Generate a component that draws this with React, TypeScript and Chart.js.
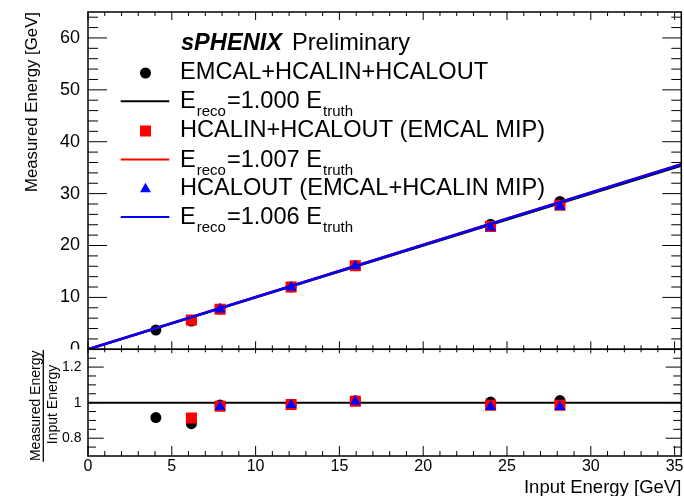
import React, { useEffect, useRef } from 'react';
import { Chart, registerables } from 'chart.js';

Chart.register(...registerables);

// ---------------- data ----------------
const inputAll = [4.05, 6.17, 7.88, 12.12, 15.95, 24.02, 28.16];
const measuredAll = [3.71, 5.44, 7.78, 12.0, 16.11, 24.09, 28.5];
const ratioAll = [0.916, 0.882, 0.987, 0.99, 1.01, 1.003, 1.012];

const inputHcal = [6.17, 7.88, 12.12, 15.95, 24.02, 28.16];
const measuredHcal = [5.64, 7.72, 11.99, 16.08, 23.66, 27.74];
const ratioHcal = [0.914, 0.98, 0.989, 1.008, 0.985, 0.985];

const inputOuter = [7.88, 12.12, 15.95, 24.02, 28.16];
const measuredOuter = [7.7, 11.96, 16.05, 23.47, 27.51];
const ratioOuter = [0.977, 0.987, 1.006, 0.977, 0.977];

const fitSlopes = [1.0, 1.007, 1.006];
const xRange = [0, 35.4];
const yRangeTop = [0, 65];
const yRangeRatio = [0.7, 1.3];

const xTickLabels = [0, 5, 10, 15, 20, 25, 30, 35];
const yTickLabelsTop = [0, 10, 20, 30, 40, 50, 60];
const yTickLabelsRatio = [0.8, 1, 1.2];
const xMinorStep = 1;
const yMinorStepTop = 2;
const yMinorStepRatio = 0.05;

const seriesLabels = [
  'EMCAL+HCALIN+HCALOUT',
  'HCALIN+HCALOUT (EMCAL MIP)',
  'HCALOUT (EMCAL+HCALIN MIP)',
];
const seriesColors = ['#000000', '#ff0000', '#0000ff'];
const seriesMarkers = ['circle', 'rect', 'triangle'];

const xTitle = 'Input Energy [GeV]';
const yTitleTop = 'Measured Energy [GeV]';
const ratioNum = 'Measured Energy';
const ratioDen = 'Input Energy';

// ---------------- helpers ----------------
const FONT = '"Liberation Sans", Arial, Helvetica, sans-serif';
const markerRadius: Record<string, number> = { circle: 5.5, rect: 7.8, triangle: 6.3 };

const pts = (xs: number[], ys: number[]) => xs.map((x, i) => ({ x, y: ys[i] }));

function minorValues(min: number, max: number, step: number, majors: number[]) {
  const out: number[] = [];
  const n = Math.round((max - min) / step);
  for (let i = 0; i <= n; i++) {
    const v = +(min + i * step).toFixed(6);
    if (v <= min || v >= max) continue;
    if (majors.some((m) => Math.abs(m - v) < 1e-6)) continue;
    out.push(v);
  }
  return out;
}

function drawTicks(ctx: CanvasRenderingContext2D, chart: any, cfg: any) {
  const a = chart.chartArea;
  const xs = chart.scales.x;
  const ys = chart.scales.y;
  ctx.save();
  ctx.strokeStyle = '#000';
  ctx.lineWidth = 1;
  ctx.beginPath();
  const xMin = minorValues(xs.min, xs.max, xMinorStep, cfg.xMajor);
  const line = (x1: number, y1: number, x2: number, y2: number) => {
    ctx.moveTo(x1, y1);
    ctx.lineTo(x2, y2);
  };
  cfg.xMajor.forEach((v: number) => {
    const p = xs.getPixelForValue(v);
    line(p, a.top, p, a.top + cfg.xTopMajor);
    line(p, a.bottom, p, a.bottom - cfg.xBotMajor);
  });
  xMin.forEach((v) => {
    const p = xs.getPixelForValue(v);
    line(p, a.top, p, a.top + cfg.xTopMinor);
    line(p, a.bottom, p, a.bottom - cfg.xBotMinor);
  });
  const yMin = minorValues(ys.min, ys.max, cfg.yMinorStep, cfg.yMajor);
  cfg.yMajor.forEach((v: number) => {
    const p = ys.getPixelForValue(v);
    line(a.left, p, a.left + cfg.yMajorLen, p);
    line(a.right, p, a.right - cfg.yMajorLen, p);
  });
  yMin.forEach((v) => {
    const p = ys.getPixelForValue(v);
    line(a.left, p, a.left + cfg.yMinorLen, p);
    line(a.right, p, a.right - cfg.yMinorLen, p);
  });
  ctx.stroke();
  ctx.lineWidth = 1.5;
  ctx.strokeRect(a.left, a.top, a.right - a.left, a.bottom - a.top);
  ctx.restore();
}

function drawMarker(ctx: CanvasRenderingContext2D, style: string, x: number, y: number, color: string) {
  const r = markerRadius[style];
  ctx.fillStyle = color;
  ctx.beginPath();
  if (style === 'circle') {
    ctx.arc(x, y, r, 0, Math.PI * 2);
  } else if (style === 'rect') {
    const s = r * Math.SQRT1_2;
    ctx.rect(x - s, y - s, 2 * s, 2 * s);
  } else {
    const w = r * Math.sin(Math.PI / 3);
    ctx.moveTo(x, y - r);
    ctx.lineTo(x + w, y + r / 2);
    ctx.lineTo(x - w, y + r / 2);
    ctx.closePath();
  }
  ctx.fill();
}

const topDecor = {
  id: 'topDecor',
  afterDraw(chart: any) {
    const ctx: CanvasRenderingContext2D = chart.ctx;
    drawTicks(ctx, chart, {
      xMajor: xTickLabels,
      xTopMajor: 8,
      xTopMinor: 4,
      xBotMajor: 8,
      xBotMinor: 4,
      yMajor: yTickLabelsTop,
      yMinorStep: yMinorStepTop,
      yMajorLen: 19,
      yMinorLen: 10,
    });
    ctx.save();
    ctx.fillStyle = '#000';
    // y title
    ctx.save();
    ctx.translate(37, chart.chartArea.top);
    ctx.rotate(-Math.PI / 2);
    ctx.font = `16.8px ${FONT}`;
    ctx.textAlign = 'right';
    ctx.textBaseline = 'alphabetic';
    ctx.fillText(yTitleTop, 0, 0);
    ctx.restore();

    // legend
    ctx.textAlign = 'left';
    ctx.textBaseline = 'alphabetic';
    const tx = 180;
    const big = `23.6px ${FONT}`;
    const small = `15px ${FONT}`;
    ctx.font = `italic bold 23.6px ${FONT}`;
    ctx.fillText('sPHENIX', 181, 49.5);
    const w1 = ctx.measureText('sPHENIX').width;
    ctx.font = big;
    ctx.fillText('Preliminary', 181 + w1 + 10, 49.5);

    const rowBase = [79, 108.3, 137, 166.5, 195, 224];
    for (let i = 0; i < 3; i++) {
      const bMarker = rowBase[i * 2];
      const bLine = rowBase[i * 2 + 1];
      drawMarker(ctx, seriesMarkers[i], 145.5, bMarker - 6, seriesColors[i]);
      ctx.fillStyle = '#000';
      ctx.font = big;
      ctx.fillText(seriesLabels[i], tx, bMarker);
      // line entry
      ctx.strokeStyle = seriesColors[i];
      ctx.lineWidth = 2;
      ctx.beginPath();
      ctx.moveTo(120.7, bLine - 7);
      ctx.lineTo(169.3, bLine - 7);
      ctx.stroke();
      ctx.fillStyle = '#000';
      let x = tx;
      const parts: [string, boolean][] = [
        ['E', false],
        ['reco', true],
        [`=${fitSlopes[i].toFixed(3)} E`, false],
        ['truth', true],
      ];
      parts.forEach(([t, sub]) => {
        ctx.font = sub ? small : big;
        ctx.fillText(t, x, sub ? bLine + 8 : bLine);
        x += ctx.measureText(t).width + 1;
      });
    }
    ctx.restore();
  },
};

const bottomDecor = {
  id: 'bottomDecor',
  beforeDraw(chart: any) {
    const ctx: CanvasRenderingContext2D = chart.ctx;
    const a = chart.chartArea;
    ctx.save();
    ctx.fillStyle = '#fff';
    ctx.fillRect(0, a.top, chart.width, chart.height - a.top);
    ctx.restore();
  },
  afterDraw(chart: any) {
    const ctx: CanvasRenderingContext2D = chart.ctx;
    drawTicks(ctx, chart, {
      xMajor: xTickLabels,
      xTopMajor: 4,
      xTopMinor: 3,
      xBotMajor: 10,
      xBotMinor: 5,
      yMajor: yTickLabelsRatio,
      yMinorStep: yMinorStepRatio,
      yMajorLen: 15.7,
      yMinorLen: 8,
    });
    const off = 340;
    ctx.save();
    ctx.fillStyle = '#000';
    ctx.strokeStyle = '#000';
    // ratio title (fraction)
    ctx.font = `14px ${FONT}`;
    ctx.textAlign = 'center';
    ctx.textBaseline = 'alphabetic';
    ctx.save();
    ctx.translate(39.5, 405.8 - off);
    ctx.rotate(-Math.PI / 2);
    ctx.fillText(ratioNum, 0, 0);
    ctx.restore();
    ctx.save();
    ctx.translate(56.7, 404.5 - off);
    ctx.rotate(-Math.PI / 2);
    ctx.fillText(ratioDen, 0, 0);
    ctx.restore();
    ctx.lineWidth = 1.3;
    ctx.beginPath();
    ctx.moveTo(43.3, 350 - off);
    ctx.lineTo(43.3, 461.7 - off);
    ctx.stroke();
    // x title
    ctx.font = `18.5px ${FONT}`;
    ctx.textAlign = 'right';
    ctx.fillText(xTitle, chart.chartArea.right, 492.7 - off);
    ctx.restore();
  },
};

function scatterSet(xs: number[], ys: number[], idx: number, order: number) {
  return {
    data: pts(xs, ys),
    showLine: false,
    pointStyle: seriesMarkers[idx],
    pointRadius: markerRadius[seriesMarkers[idx]],
    pointBackgroundColor: seriesColors[idx],
    pointBorderWidth: 0,
    order,
  };
}

function lineSet(slope: number, idx: number, order: number) {
  return {
    data: xRange.map((x) => ({ x, y: x * slope })),
    showLine: true,
    pointRadius: 0,
    borderColor: seriesColors[idx],
    borderWidth: 2.5,
    order,
  };
}

const tickFont = (size: number) => ({ family: FONT, size });

const fitWidth = (w: number) => (s: any) => {
  s.width = w;
  s.paddingTop = 0;
  s.paddingBottom = 0;
};
const fitHeight = (h: number) => (s: any) => {
  s.height = h;
  s.paddingLeft = 0;
  s.paddingRight = 0;
};

export default function App() {
  const topRef = useRef<HTMLCanvasElement>(null);
  const botRef = useRef<HTMLCanvasElement>(null);

  useEffect(() => {
    const top = new Chart(topRef.current as HTMLCanvasElement, {
      type: 'scatter',
      data: {
        datasets: [
          lineSet(fitSlopes[2], 2, 0),
          scatterSet(inputOuter, measuredOuter, 2, 1),
          lineSet(fitSlopes[1], 1, 2),
          scatterSet(inputHcal, measuredHcal, 1, 3),
          lineSet(fitSlopes[0], 0, 4),
          scatterSet(inputAll, measuredAll, 0, 5),
        ] as any,
      },
      options: {
        animation: false,
        responsive: false,
        maintainAspectRatio: false,
        devicePixelRatio: 1,
        events: [],
        layout: { autoPadding: false, padding: { top: 12, right: 2.7, bottom: 10.7, left: 0 } },
        plugins: { legend: { display: false }, tooltip: { enabled: false } },
        scales: {
          x: {
            type: 'linear',
            min: xRange[0],
            max: xRange[1],
            display: false,
          },
          y: {
            type: 'linear',
            min: yRangeTop[0],
            max: yRangeTop[1],
            afterFit: fitWidth(88),
            afterBuildTicks: (s: any) => {
              s.ticks = yTickLabelsTop.map((v) => ({ value: v }));
            },
            grid: { display: false, drawTicks: false },
            border: { display: false },
            ticks: {
              font: tickFont(18),
              color: '#000',
              padding: 8,
              callback: (v: any) => String(v),
            },
          },
        },
      } as any,
      plugins: [topDecor],
    });

    const bottom = new Chart(botRef.current as HTMLCanvasElement, {
      type: 'scatter',
      data: {
        datasets: [
          scatterSet(inputOuter, ratioOuter, 2, 0),
          scatterSet(inputHcal, ratioHcal, 1, 1),
          scatterSet(inputAll, ratioAll, 0, 2),
          {
            data: xRange.map((x) => ({ x, y: 1 })),
            showLine: true,
            pointRadius: 0,
            borderColor: '#000',
            borderWidth: 2,
            order: 3,
          },
        ] as any,
      },
      options: {
        animation: false,
        responsive: false,
        maintainAspectRatio: false,
        devicePixelRatio: 1,
        events: [],
        layout: { autoPadding: false, padding: { top: 9.3, right: 2.7, bottom: 0, left: 0 } },
        plugins: { legend: { display: false }, tooltip: { enabled: false } },
        scales: {
          x: {
            type: 'linear',
            min: xRange[0],
            max: xRange[1],
            afterFit: fitHeight(40),
            afterBuildTicks: (s: any) => {
              s.ticks = xTickLabels.map((v) => ({ value: v }));
            },
            grid: { display: false, drawTicks: false },
            border: { display: false },
            ticks: {
              font: tickFont(16),
              color: '#000',
              padding: 1,
              autoSkip: false,
              maxRotation: 0,
              minRotation: 0,
              callback: (v: any) => String(v),
            },
          },
          y: {
            type: 'linear',
            min: yRangeRatio[0],
            max: yRangeRatio[1],
            afterFit: fitWidth(88),
            afterBuildTicks: (s: any) => {
              s.ticks = yTickLabelsRatio.map((v) => ({ value: v }));
            },
            grid: { display: false, drawTicks: false },
            border: { display: false },
            ticks: {
              font: tickFont(14),
              color: '#000',
              padding: 6.5,
              callback: (v: any) => String(v),
            },
          },
        },
      } as any,
      plugins: [bottomDecor],
    });

    return () => {
      top.destroy();
      bottom.destroy();
    };
  }, []);

  return (
    <div style={{ position: 'absolute', left: 0, top: 0, width: 684, height: 496, background: '#fff' }}>
      <canvas ref={topRef} width={684} height={360} style={{ position: 'absolute', left: 0, top: 0 }} />
      <canvas ref={botRef} width={684} height={156} style={{ position: 'absolute', left: 0, top: 340 }} />
    </div>
  );
}
